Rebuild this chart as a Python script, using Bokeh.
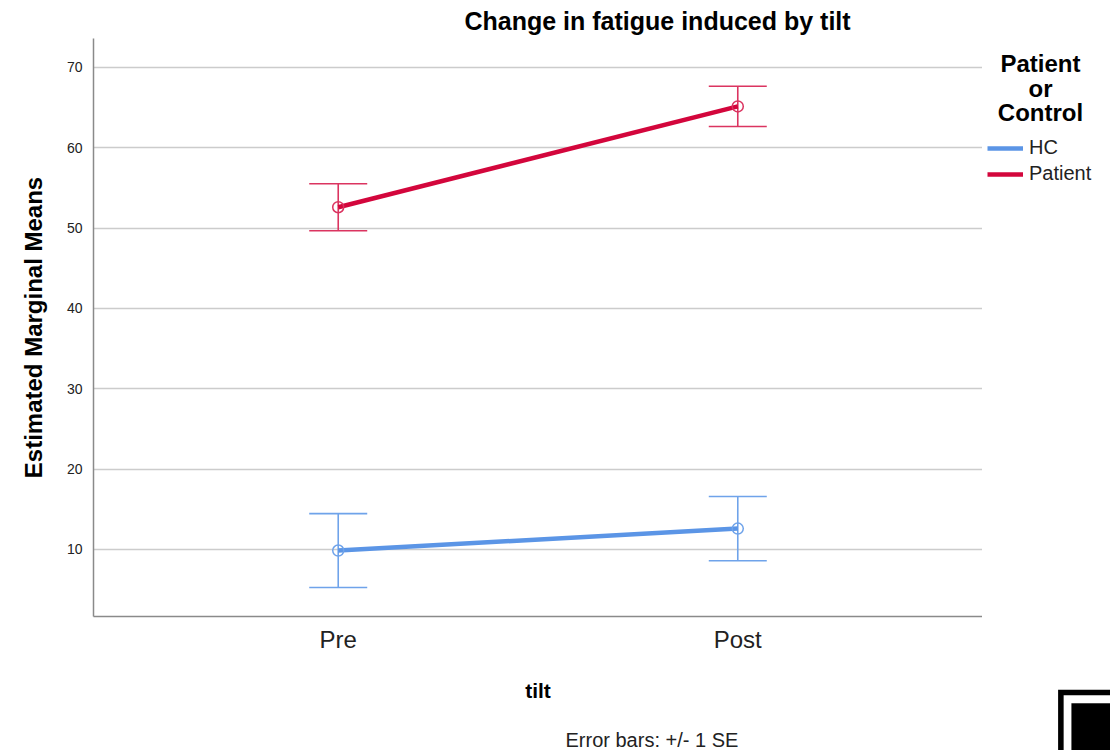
from bokeh.plotting import figure
from bokeh.layouts import row, column
from bokeh.models import (ColumnDataSource, FactorRange, Range1d, Whisker, TeeHead,
                          Legend, LegendItem, Label, SingleIntervalTicker)
from bokeh.embed import file_html
from bokeh.resources import INLINE

# ---- data ----
tilt = ["Pre", "Post"]
groups = ["HC", "Patient"]
hc_mean = [9.87, 12.6]
hc_se = [4.6, 4.0]
patient_mean = [52.6, 65.15]
patient_se = [2.93, 2.5]
legend_title = ["Patient", "or", "Control"]
footnote = "Error bars: +/- 1 SE"
colors = {"HC": "#5B95E6", "Patient": "#D3063C"}
err_colors = {"HC": "#6FA3EA", "Patient": "#DB3460"}

FONT = "Liberation Sans"

series = {"HC": (hc_mean, hc_se), "Patient": (patient_mean, patient_se)}

# ---------------- main chart ----------------
p = figure(width=982, height=710, output_backend="svg", toolbar_location=None,
           x_range=FactorRange(factors=tilt, range_padding=0.1125, range_padding_units="absolute"),
           y_range=Range1d(1.66, 73.6),
           min_border_left=93, min_border_right=0, min_border_top=38, min_border_bottom=94)

p.outline_line_color = None
p.background_fill_color = "white"
p.border_fill_color = "white"

p.title.text = "Change in fatigue induced by tilt"
p.title.text_font = FONT
p.title.text_font_size = "25px"
p.title.text_font_style = "bold"
p.title.text_color = "black"
p.title.align = "left"
p.title.offset = 371
p.title.standoff = 8

p.yaxis.ticker = SingleIntervalTicker(interval=10)
p.yaxis.minor_tick_line_color = None
p.yaxis.major_tick_line_color = None
p.yaxis.axis_line_color = "#8a8a8a"
p.yaxis.axis_line_width = 1.5
p.yaxis.major_label_text_font = FONT
p.yaxis.major_label_text_font_size = "14px"
p.yaxis.major_label_text_color = "#222222"
p.yaxis.major_label_standoff = 5
p.yaxis.axis_label = "Estimated Marginal Means"
p.yaxis.axis_label_text_font = FONT
p.yaxis.axis_label_text_font_size = "24px"
p.yaxis.axis_label_text_font_style = "bold"
p.yaxis.axis_label_text_color = "black"
p.yaxis.axis_label_standoff = 17

p.xaxis.major_tick_line_color = None
p.xaxis.minor_tick_line_color = None
p.xaxis.axis_line_color = "#8a8a8a"
p.xaxis.axis_line_width = 1.5
p.xaxis.major_label_text_font = FONT
p.xaxis.major_label_text_font_size = "24px"
p.xaxis.major_label_text_color = "#222222"
p.xaxis.major_label_standoff = 3
p.xaxis.axis_label = "tilt"
p.xaxis.axis_label_text_font = FONT
p.xaxis.axis_label_text_font_size = "21px"
p.xaxis.axis_label_text_font_style = "bold"
p.xaxis.axis_label_text_color = "black"
p.xaxis.axis_label_standoff = 23

p.xgrid.grid_line_color = None
p.ygrid.grid_line_color = "#cccccc"
p.ygrid.grid_line_width = 1.5

for g in groups:
    mean, se = series[g]
    src = ColumnDataSource(dict(x=tilt, y=mean,
                                upper=[m + s for m, s in zip(mean, se)],
                                lower=[m - s for m, s in zip(mean, se)]))
    w = Whisker(base="x", upper="upper", lower="lower", source=src,
                line_color=err_colors[g], line_width=1.6,
                upper_head=TeeHead(size=58, line_color=err_colors[g], line_width=1.6),
                lower_head=TeeHead(size=58, line_color=err_colors[g], line_width=1.6))
    p.add_layout(w)
    p.line("x", "y", source=src, line_color=colors[g], line_width=4.5)
    p.scatter("x", "y", source=src, marker="circle", size=11, fill_color=None,
              line_color=err_colors[g], line_width=1.5)


def blank(w, h, **kw):
    f = figure(width=w, height=h, output_backend="svg", toolbar_location=None,
               min_border=0, min_border_left=0, min_border_right=0,
               min_border_top=0, min_border_bottom=0, **kw)
    f.xaxis.visible = False
    f.yaxis.visible = False
    f.grid.visible = False
    f.outline_line_color = None
    f.background_fill_color = "white"
    f.border_fill_color = "white"
    return f


# ---------------- footnote strip ----------------
strip = blank(982, 40, x_range=Range1d(0, 982), y_range=Range1d(0, 40))
strip.add_layout(Label(x=472, y=11, x_units="screen", y_units="screen", text=footnote,
                       text_align="left", text_baseline="middle", text_font=FONT,
                       text_font_size="20px", text_color="#222222"))

# ---------------- legend column ----------------
# the legend's sample lines reuse the series, kept out of this panel's view
side = blank(128, 750, x_range=FactorRange(factors=tilt), y_range=Range1d(1000, 1750))
for txt, yy in zip(legend_title, [687, 662, 638]):
    side.add_layout(Label(x=58, y=yy, x_units="screen", y_units="screen", text=txt,
                          text_align="center", text_baseline="middle", text_font=FONT,
                          text_font_size="24px", text_font_style="bold", text_color="black"))

items = []
for g in groups:
    r = side.line(x=tilt, y=series[g][0], line_color=colors[g], line_width=4.5)
    items.append(LegendItem(label=g, renderers=[r]))

legend = Legend(items=items, location=(5, 565), orientation="vertical",
                glyph_width=36, glyph_height=20, spacing=3, padding=0, margin=0,
                label_standoff=6, label_text_font=FONT, label_text_font_size="20px",
                label_text_color="#222222", border_line_color=None,
                background_fill_alpha=0)
side.add_layout(legend)

side.add_layout(Label(x=66, y=31, x_units="screen", y_units="screen", text="\u25a3",
                      text_align="left", text_baseline="middle", text_font="DejaVu Sans",
                      text_font_size="100px", text_color="black"))

layout = row(column(p, strip, spacing=0), side, spacing=0)

open("out.html", "w").write(file_html(layout, INLINE))
